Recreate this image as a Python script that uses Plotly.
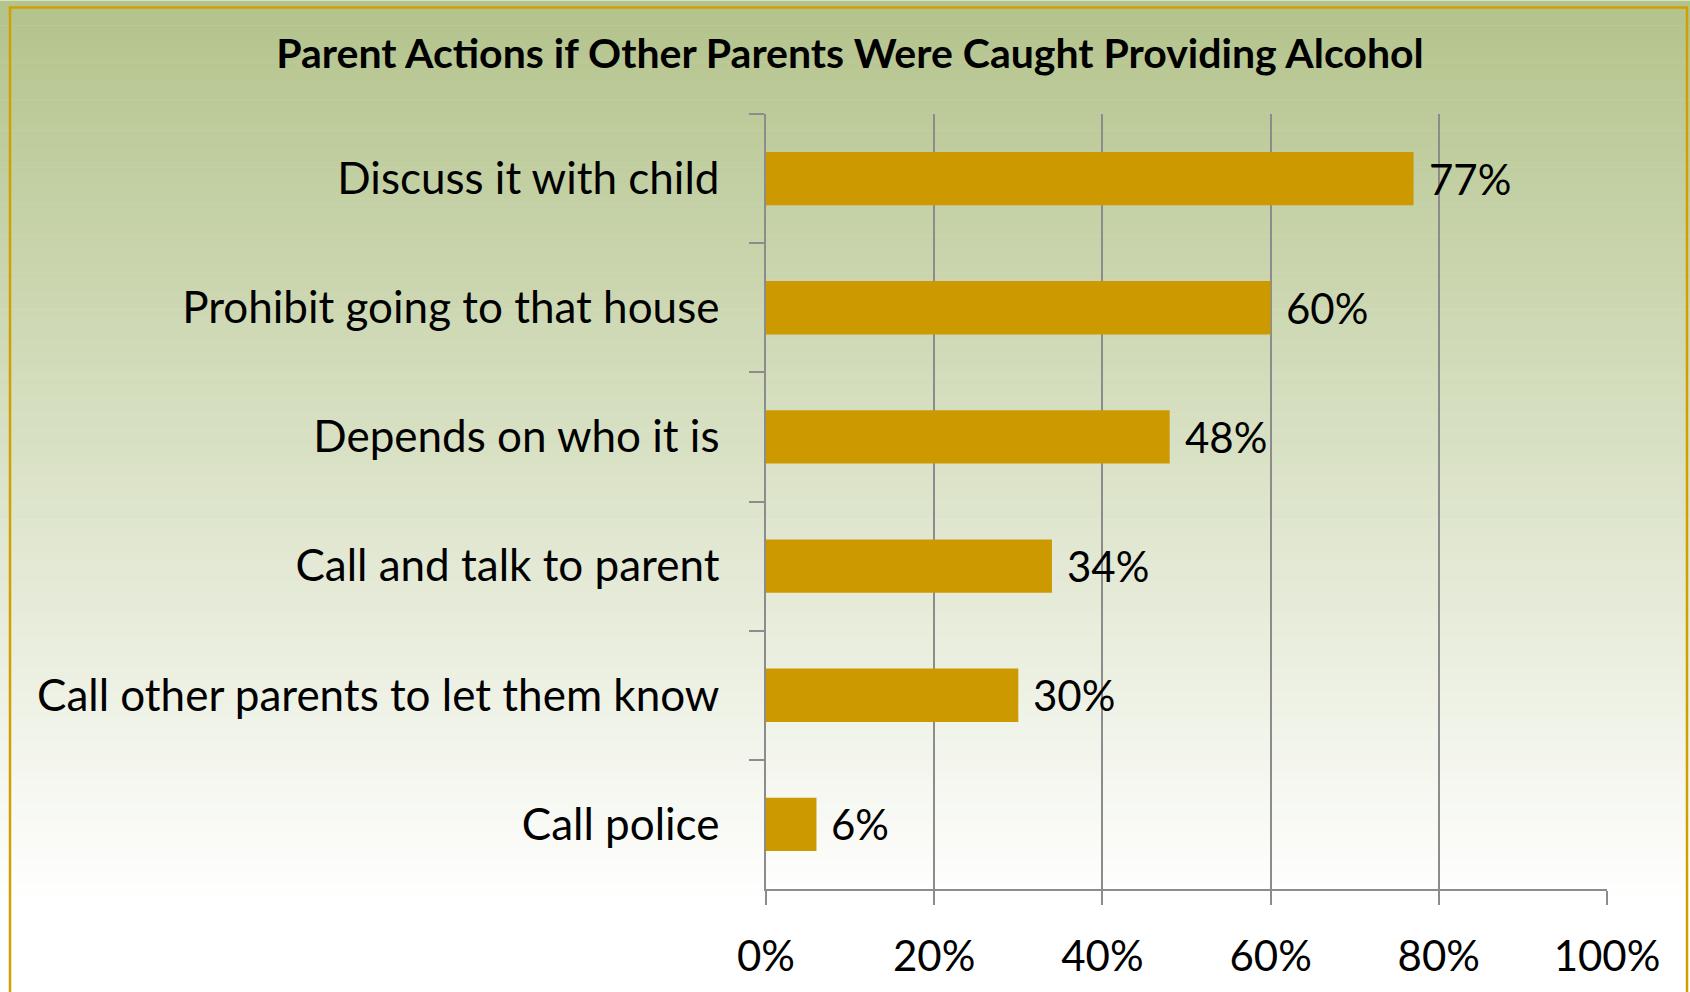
import plotly.graph_objects as go

# Survey responses: what parents would do if other parents were caught providing alcohol
actions = [
    "Discuss it with child",
    "Prohibit going to that house",
    "Depends on who it is",
    "Call and talk to parent",
    "Call other parents to let them know",
    "Call police",
]
percent = [77, 60, 48, 34, 30, 6]
tick_values = [0, 20, 40, 60, 80, 100]
tick_labels = ["0%", "20%", "40%", "60%", "80%", "100%"]

W, H = 1690, 992
L, R, T, B = 766, 83, 114, 100
PW, PH = W - L - R, H - T - B

FONT = "Lato"
BAR = "#CC9900"
GRID = "#8C8C8C"


def px_x(px):
    return (px - L) / PW


def px_y(py):
    return (H - B - py) / PH


fig = go.Figure()
fig.add_trace(go.Bar(
    y=actions,
    x=percent,
    orientation="h",
    marker=dict(color=BAR, line=dict(width=0)),
    hoverinfo="skip",
))

shapes = []
# vertical background gradient: olive green at the top fading to white
top_rgb = (179, 195, 139)
end_px = 905
n = 160
step = H / n
for i in range(n):
    y0 = i * step
    y1 = min(H, (i + 1) * step + 0.6)
    f = min(1.0, (y0 + step / 2) / end_px)
    c = tuple(round(a + (255 - a) * f) for a in top_rgb)
    shapes.append(dict(
        type="rect", xref="paper", yref="paper", layer="below",
        x0=px_x(0), x1=px_x(W), y0=px_y(y1), y1=px_y(y0),
        fillcolor=f"rgb{c}", line=dict(width=0),
    ))
# gold frame
shapes.append(dict(
    type="rect", xref="paper", yref="paper", layer="above",
    x0=px_x(10), x1=px_x(1687), y0=px_y(H + 10), y1=px_y(7),
    fillcolor="rgba(0,0,0,0)", line=dict(color="#D29F00", width=2.5),
))

annotations = [
    dict(x=v, y=a, xref="x", yref="y", text=f"{v}%", showarrow=False,
         xanchor="left", yanchor="middle", xshift=13,
         font=dict(family=FONT, size=42, color="black"))
    for a, v in zip(actions, percent)
]

fig.update_layout(
    width=W, height=H,
    margin=dict(l=L, r=R, t=T, b=B),
    paper_bgcolor="white",
    plot_bgcolor="rgba(0,0,0,0)",
    showlegend=False,
    bargap=0.587,
    title=dict(
        text="<b>Parent Actions if Other Parents Were Caught Providing Alcohol</b>",
        x=850 / W, xanchor="center",
        y=1 - 54 / H, yanchor="middle",
        font=dict(family=FONT, size=41, color="black"),
    ),
    shapes=shapes,
    annotations=annotations,
    xaxis=dict(
        range=[0, 100],
        tickvals=tick_values, ticktext=tick_labels,
        showgrid=True, gridcolor=GRID, gridwidth=1.5,
        showline=True, linecolor=GRID, linewidth=2,
        ticks="outside", ticklen=14, tickcolor=GRID, tickwidth=1.5,
        ticklabelstandoff=16,
        tickfont=dict(family=FONT, size=42, color="black"),
        zeroline=False, fixedrange=True,
    ),
    yaxis=dict(
        autorange="reversed",
        showgrid=False,
        showline=True, linecolor=GRID, linewidth=1.5,
        ticks="outside", ticklen=15, tickcolor=GRID, tickwidth=1.5,
        tickson="boundaries",
        ticklabelstandoff=36,
        tickfont=dict(family=FONT, size=44, color="black"),
        fixedrange=True,
    ),
)

fig.write_html("out.html")
